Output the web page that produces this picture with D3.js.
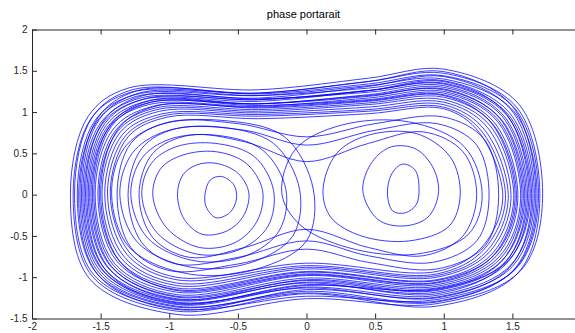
<!DOCTYPE html>
<html>
<head>
<meta charset="utf-8">
<script src="https://cdn.jsdelivr.net/npm/d3@7"></script>
<style>
  html, body { margin: 0; padding: 0; background: #fff; }
  svg { display: block; }
</style>
</head>
<body>
<svg id="chart" width="575" height="333"></svg>
<script>
// Phase portrait: velocity against displacement for a forced double-well oscillator.
const chartTitle = "phase portarait";
const xTicks = [-2, -1.5, -1, -0.5, 0, 0.5, 1, 1.5, 2];
const xTickLabels = ["-2", "-1.5", "-1", "-0.5", "0", "0.5", "1", "1.5"];
const yTicks = [-1.5, -1, -0.5, 0, 0.5, 1, 1.5, 2];

// Large orbits that circle both wells (the dense outer band).
const outerLoops = [
  [[-1.72,0.02],[-1.59,0.95],[-1.30,1.29],[-0.35,1.27],[0.45,1.41],[1.00,1.52],[1.55,1.09],[1.72,-0.05],[1.56,-0.92],[0.95,-1.32],[0.00,-1.26],[-0.95,-1.45],[-1.58,-1.02]],
  [[-1.70,0.02],[-1.57,0.92],[-1.28,1.24],[-0.35,1.23],[0.45,1.37],[1.00,1.47],[1.53,1.06],[1.70,-0.05],[1.54,-0.95],[0.95,-1.35],[0.00,-1.20],[-0.95,-1.41],[-1.56,-0.99]],
  [[-1.69,0.02],[-1.56,0.94],[-1.27,1.27],[-0.35,1.22],[0.45,1.34],[1.00,1.44],[1.52,1.04],[1.69,-0.05],[1.53,-0.89],[0.95,-1.27],[0.00,-1.23],[-0.95,-1.38],[-1.55,-0.97]],
  [[-1.67,0.02],[-1.54,0.90],[-1.25,1.21],[-0.35,1.20],[0.45,1.32],[1.00,1.40],[1.51,1.01],[1.68,-0.05],[1.52,-0.90],[0.95,-1.29],[0.00,-1.17],[-0.95,-1.36],[-1.53,-0.95]],
  [[-1.66,0.02],[-1.53,0.88],[-1.24,1.19],[-0.35,1.17],[0.45,1.31],[1.00,1.43],[1.49,1.03],[1.66,-0.05],[1.50,-0.87],[0.95,-1.24],[0.00,-1.15],[-0.95,-1.39],[-1.52,-0.97]],
  [[-1.65,0.02],[-1.52,0.93],[-1.23,1.26],[-0.35,1.23],[0.45,1.37],[1.00,1.49],[1.50,1.07],[1.67,-0.05],[1.51,-0.91],[0.95,-1.30],[0.00,-1.19],[-0.95,-1.35],[-1.51,-0.95]],
  [[-1.64,0.02],[-1.51,0.91],[-1.22,1.23],[-0.35,1.20],[0.45,1.29],[1.00,1.38],[1.48,0.99],[1.65,-0.05],[1.49,-0.85],[0.95,-1.22],[0.00,-1.12],[-0.95,-1.33],[-1.50,-0.93]],
  [[-1.63,0.02],[-1.50,0.87],[-1.21,1.17],[-0.35,1.15],[0.45,1.26],[1.00,1.35],[1.47,0.97],[1.64,-0.05],[1.48,-0.88],[0.95,-1.25],[0.00,-1.13],[-0.95,-1.30],[-1.49,-0.91]],
  [[-1.62,0.02],[-1.49,0.85],[-1.20,1.15],[-0.35,1.13],[0.45,1.26],[1.00,1.37],[1.45,0.99],[1.62,-0.05],[1.46,-0.83],[0.95,-1.18],[0.00,-1.09],[-0.95,-1.32],[-1.48,-0.92]],
  [[-1.61,0.02],[-1.48,0.89],[-1.19,1.20],[-0.35,1.16],[0.45,1.24],[1.00,1.32],[1.44,0.95],[1.61,-0.05],[1.45,-0.81],[0.95,-1.16],[0.00,-1.06],[-0.95,-1.28],[-1.47,-0.90]],
  [[-1.60,0.02],[-1.47,0.86],[-1.18,1.16],[-0.35,1.15],[0.45,1.26],[1.00,1.34],[1.46,0.96],[1.63,-0.05],[1.47,-0.80],[0.95,-1.14],[0.00,-1.10],[-0.95,-1.31],[-1.46,-0.92]],
  [[-1.59,0.02],[-1.46,0.84],[-1.17,1.13],[-0.35,1.10],[0.45,1.21],[1.00,1.30],[1.43,0.94],[1.60,-0.05],[1.44,-0.84],[0.95,-1.20],[0.00,-1.07],[-0.95,-1.26],[-1.45,-0.88]],
  [[-1.58,0.02],[-1.45,0.82],[-1.16,1.11],[-0.35,1.10],[0.45,1.20],[1.00,1.27],[1.42,0.91],[1.59,-0.05],[1.43,-0.79],[0.95,-1.13],[0.00,-1.03],[-0.95,-1.27],[-1.44,-0.89]],
  [[-1.57,0.02],[-1.44,0.81],[-1.15,1.09],[-0.35,1.07],[0.45,1.17],[1.00,1.25],[1.40,0.90],[1.57,-0.05],[1.41,-0.78],[0.95,-1.11],[0.00,-1.01],[-0.95,-1.23],[-1.43,-0.86]],
  [[-1.56,0.02],[-1.43,0.84],[-1.14,1.14],[-0.35,1.10],[0.45,1.19],[1.00,1.28],[1.41,0.92],[1.58,-0.05],[1.42,-0.81],[0.95,-1.15],[0.00,-1.04],[-0.95,-1.24],[-1.42,-0.87]],
  [[-1.55,0.02],[-1.42,0.83],[-1.13,1.12],[-0.35,1.08],[0.45,1.15],[1.00,1.23],[1.39,0.89],[1.56,-0.05],[1.40,-0.76],[0.95,-1.09],[0.00,-0.98],[-0.95,-1.21],[-1.41,-0.85]],
  [[-1.54,0.02],[-1.41,0.79],[-1.12,1.07],[-0.35,1.06],[0.45,1.14],[1.00,1.21],[1.37,0.87],[1.54,-0.05],[1.38,-0.75],[0.95,-1.07],[0.00,-0.97],[-0.95,-1.18],[-1.40,-0.83]],
  [[-1.52,0.02],[-1.39,0.78],[-1.10,1.05],[-0.35,1.03],[0.45,1.11],[1.00,1.18],[1.36,0.85],[1.53,-0.05],[1.37,-0.73],[0.95,-1.04],[0.00,-0.94],[-0.95,-1.15],[-1.38,-0.81]],
  [[-1.51,0.02],[-1.38,0.76],[-1.09,1.03],[-0.35,1.01],[0.45,1.09],[1.00,1.15],[1.34,0.83],[1.51,-0.05],[1.35,-0.72],[0.95,-1.03],[0.00,-0.93],[-0.95,-1.13],[-1.37,-0.79]],
  [[-1.50,0.02],[-1.37,0.80],[-1.08,1.08],[-0.35,1.05],[0.45,1.13],[1.00,1.20],[1.35,0.86],[1.52,-0.05],[1.36,-0.74],[0.95,-1.06],[0.00,-0.96],[-0.95,-1.16],[-1.36,-0.81]],
  [[-1.49,0.02],[-1.36,0.75],[-1.07,1.01],[-0.35,0.99],[0.45,1.06],[1.00,1.12],[1.32,0.81],[1.49,-0.05],[1.33,-0.70],[0.95,-1.00],[0.00,-0.90],[-0.95,-1.10],[-1.35,-0.77]],
  [[-1.47,0.02],[-1.34,0.73],[-1.05,0.98],[-0.35,0.97],[0.45,1.03],[1.00,1.09],[1.30,0.78],[1.47,-0.05],[1.31,-0.69],[0.95,-0.98],[0.00,-0.88],[-0.95,-1.07],[-1.33,-0.75]],
  [[-1.45,0.02],[-1.32,0.71],[-1.03,0.96],[-0.35,0.95],[0.45,1.01],[1.00,1.06],[1.28,0.76],[1.45,-0.05],[1.29,-0.67],[0.95,-0.96],[0.00,-0.86],[-0.95,-1.03],[-1.31,-0.72]],
  [[-1.43,0.02],[-1.30,0.70],[-1.01,0.94],[-0.35,0.92],[0.45,0.98],[1.00,1.04],[1.26,0.75],[1.43,-0.05],[1.27,-0.65],[0.95,-0.93],[0.00,-0.83],[-0.95,-1.00],[-1.29,-0.70]]
];

// Orbits just above the saddle energy, pinched near x = 0.
const crossingLoops = [
  [[-1.38,0.00],[-1.28,0.62],[-1.00,0.88],[-0.50,0.86],[0.00,0.70],[0.50,0.86],[1.00,0.94],[1.30,0.66],[1.40,-0.02],[1.30,-0.62],[0.95,-0.90],[0.45,-0.82],[0.00,-0.66],[-0.50,-0.84],[-1.00,-0.92],[-1.28,-0.64]],
  [[-1.30,0.00],[-1.20,0.56],[-0.95,0.80],[-0.45,0.78],[0.00,0.60],[0.50,0.78],[0.95,0.86],[1.24,0.60],[1.33,-0.03],[1.24,-0.56],[0.92,-0.82],[0.45,-0.74],[0.00,-0.56],[-0.50,-0.76],[-0.95,-0.84],[-1.20,-0.58]],
  [[-1.22,0.00],[-1.12,0.50],[-0.85,0.72],[-0.45,0.64],[0.00,0.40],[0.45,0.62],[0.85,0.76],[1.14,0.52],[1.24,0.00],[1.14,-0.50],[0.85,-0.74],[0.45,-0.64],[0.00,-0.42],[-0.45,-0.64],[-0.85,-0.76],[-1.12,-0.52]]
];

// Orbits trapped in the left well.
const leftWellLoops = [
  [[-0.74,0.00],[-0.70,0.18],[-0.62,0.22],[-0.53,0.12],[-0.51,-0.05],[-0.56,-0.22],[-0.66,-0.28],[-0.73,-0.15]],
  [[-0.94,0.00],[-0.90,0.24],[-0.80,0.36],[-0.66,0.38],[-0.50,0.26],[-0.42,0.02],[-0.46,-0.26],[-0.58,-0.44],[-0.76,-0.48],[-0.89,-0.30]],
  [[-1.12,0.00],[-1.06,0.32],[-0.90,0.48],[-0.66,0.52],[-0.44,0.38],[-0.32,0.05],[-0.36,-0.32],[-0.52,-0.58],[-0.78,-0.64],[-1.02,-0.40]],
  [[-1.20,0.00],[-1.13,0.38],[-0.95,0.58],[-0.66,0.62],[-0.38,0.46],[-0.24,0.05],[-0.28,-0.38],[-0.48,-0.66],[-0.80,-0.72],[-1.09,-0.46]],
  [[-1.28,0.00],[-1.20,0.44],[-1.00,0.67],[-0.66,0.72],[-0.32,0.54],[-0.15,0.06],[-0.20,-0.44],[-0.44,-0.74],[-0.82,-0.80],[-1.16,-0.52]],
  [[-1.36,0.00],[-1.27,0.50],[-1.04,0.76],[-0.64,0.82],[-0.24,0.62],[-0.05,0.06],[-0.10,-0.50],[-0.40,-0.82],[-0.84,-0.88],[-1.23,-0.58]],
  [[-1.42,0.00],[-1.33,0.56],[-1.08,0.84],[-0.62,0.90],[-0.16,0.70],[0.05,0.06],[0.00,-0.56],[-0.36,-0.90],[-0.86,-0.96],[-1.29,-0.64]]
];

// Orbits trapped in the right well.
const rightWellLoops = [
  [[0.59,0.00],[0.62,0.25],[0.70,0.37],[0.79,0.30],[0.82,0.08],[0.80,-0.12],[0.72,-0.22],[0.63,-0.20]],
  [[0.41,0.05],[0.48,0.40],[0.62,0.58],[0.80,0.55],[0.93,0.30],[0.96,0.00],[0.88,-0.28],[0.70,-0.38],[0.52,-0.30]],
  [[0.12,0.05],[0.22,0.50],[0.45,0.72],[0.80,0.74],[1.05,0.45],[1.12,0.00],[1.04,-0.38],[0.75,-0.56],[0.40,-0.50],[0.18,-0.28]],
  [[-0.18,0.02],[-0.08,0.55],[0.25,0.84],[0.75,0.88],[1.15,0.58],[1.28,0.00],[1.18,-0.48],[0.80,-0.72],[0.30,-0.64],[-0.05,-0.36]]
];

const svg = d3.select("#chart");
const plot = { left: 32, right: 581, top: 29.5, bottom: 318.5 };

const x = d3.scaleLinear().domain([-2, 2]).range([plot.left, plot.right]);
const y = d3.scaleLinear().domain([-1.5, 2]).range([plot.bottom, plot.top]);

svg.append("defs").append("clipPath").attr("id", "plot-clip")
  .append("rect")
  .attr("x", plot.left).attr("y", plot.top)
  .attr("width", plot.right - plot.left).attr("height", plot.bottom - plot.top);

const orbit = d3.line()
  .x(d => x(d[0]))
  .y(d => y(d[1]))
  .curve(d3.curveCatmullRomClosed.alpha(0.5));

const allLoops = [].concat(outerLoops, crossingLoops, leftWellLoops, rightWellLoops);

svg.append("g").attr("clip-path", "url(#plot-clip)")
  .selectAll("path")
  .data(allLoops)
  .join("path")
  .attr("d", orbit)
  .attr("fill", "none")
  .attr("stroke", "#0000ff")
  .attr("stroke-width", 0.85)
  .attr("stroke-opacity", 0.9);

// Axes: box with inward ticks on all four sides, labels on bottom and left only.
const axisColor = "#262626";
const fontFamily = "Arial, 'Liberation Sans', Helvetica, sans-serif";

function styleAxis(g) {
  g.select(".domain").attr("stroke", axisColor).attr("stroke-width", 1);
  g.selectAll(".tick line").attr("stroke", axisColor).attr("stroke-width", 1);
  g.selectAll(".tick text").attr("fill", axisColor)
    .attr("font-family", fontFamily).attr("font-size", "10px");
}

const bottomAxis = svg.append("g")
  .attr("transform", `translate(0,${plot.bottom})`)
  .call(d3.axisBottom(x).tickValues(xTicks).tickFormat((d, i) => xTickLabels[i] || "")
    .tickSizeInner(-5).tickSizeOuter(0).tickPadding(4.5))
  .call(styleAxis);
// the last x tick sits past the right edge of the page, so it carries no label
bottomAxis.selectAll(".tick text").filter(function () { return this.textContent === ""; }).remove();

svg.append("g")
  .attr("transform", `translate(${plot.left},0)`)
  .call(d3.axisLeft(y).tickValues(yTicks).tickFormat(d => String(d))
    .tickSizeInner(-5).tickSizeOuter(0).tickPadding(4.5))
  .call(styleAxis);

svg.append("g")
  .attr("transform", `translate(0,${plot.top})`)
  .call(d3.axisTop(x).tickValues(xTicks).tickFormat("").tickSizeInner(-5).tickSizeOuter(0))
  .call(styleAxis);

svg.append("g")
  .attr("transform", `translate(${plot.right},0)`)
  .call(d3.axisRight(y).tickValues(yTicks).tickFormat("").tickSizeInner(-5).tickSizeOuter(0))
  .call(styleAxis);

svg.append("text")
  .attr("x", (plot.left + plot.right) / 2 - 3)
  .attr("y", 17.5)
  .attr("text-anchor", "middle")
  .attr("font-family", fontFamily)
  .attr("font-size", "11px")
  .attr("fill", "#000")
  .text(chartTitle);
</script>
</body>
</html>
